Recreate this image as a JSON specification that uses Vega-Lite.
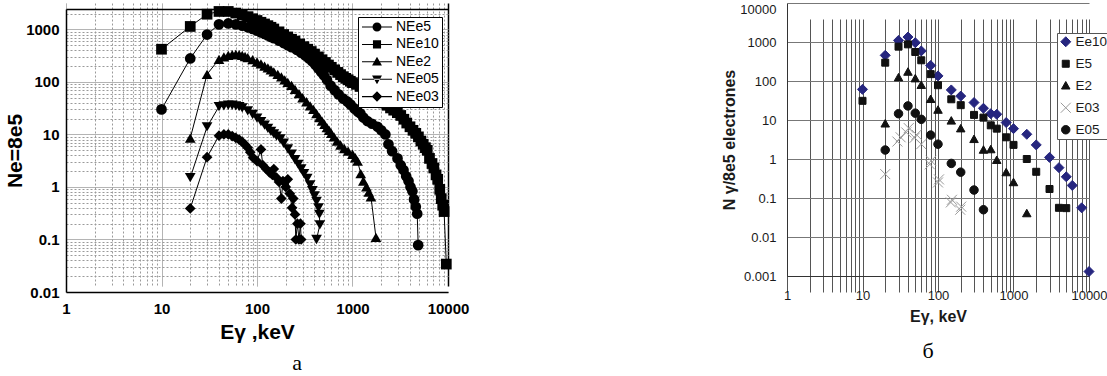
{
"$schema": "https://vega.github.io/schema/vega-lite/v6.json",
"padding": {"left": 4, "top": 2, "right": 0, "bottom": 0},
"background": "white",
"bounds": "flush",
"spacing": 339,
"resolve": {"scale": {"shape": "independent", "color": "independent", "stroke": "independent"}, "legend": {"shape": "independent", "color": "independent", "stroke": "independent"}},
"config": {"view": {"stroke": null}, "font": "Liberation Sans", "axis": {"labelFont": "Liberation Sans", "titleFont": "Liberation Sans"}, "legend": {"labelFont": "Liberation Sans"}},
"datasets": {
"a": [
{"s":"NEe5","E":10,"N":30},{"s":"NEe5","E":20,"N":280},{"s":"NEe5","E":30,"N":800},{"s":"NEe5","E":40,"N":1250},{"s":"NEe5","E":50,"N":1300},{"s":"NEe5","E":60,"N":1250},{"s":"NEe5","E":70,"N":1180},{"s":"NEe5","E":80,"N":1100},{"s":"NEe5","E":90,"N":1020},{"s":"NEe5","E":100,"N":950},{"s":"NEe5","E":110,"N":880},{"s":"NEe5","E":120,"N":820},{"s":"NEe5","E":130,"N":770},{"s":"NEe5","E":140,"N":720},{"s":"NEe5","E":150,"N":680},{"s":"NEe5","E":170,"N":610},{"s":"NEe5","E":190,"N":550},{"s":"NEe5","E":210,"N":500},{"s":"NEe5","E":230,"N":460},{"s":"NEe5","E":260,"N":410},{"s":"NEe5","E":290,"N":360},{"s":"NEe5","E":320,"N":320},{"s":"NEe5","E":350,"N":280},{"s":"NEe5","E":380,"N":245},{"s":"NEe5","E":410,"N":210},{"s":"NEe5","E":440,"N":180},{"s":"NEe5","E":470,"N":155},{"s":"NEe5","E":500,"N":135},{"s":"NEe5","E":540,"N":110},{"s":"NEe5","E":590,"N":85},{"s":"NEe5","E":650,"N":70},{"s":"NEe5","E":714,"N":58},{"s":"NEe5","E":800,"N":48},{"s":"NEe5","E":886,"N":42},{"s":"NEe5","E":955,"N":37},{"s":"NEe5","E":1050,"N":31},{"s":"NEe5","E":1140,"N":27},{"s":"NEe5","E":1210,"N":25},{"s":"NEe5","E":1300,"N":21},{"s":"NEe5","E":1430,"N":18},{"s":"NEe5","E":1600,"N":16},{"s":"NEe5","E":1830,"N":14},{"s":"NEe5","E":2000,"N":12},{"s":"NEe5","E":2210,"N":10},{"s":"NEe5","E":2380,"N":6.5},{"s":"NEe5","E":2600,"N":4.8},{"s":"NEe5","E":2960,"N":3.5},{"s":"NEe5","E":3200,"N":2.6},{"s":"NEe5","E":3420,"N":2.1},{"s":"NEe5","E":3650,"N":1.6},{"s":"NEe5","E":3860,"N":1.3},{"s":"NEe5","E":4050,"N":1.0},{"s":"NEe5","E":4240,"N":0.83},{"s":"NEe5","E":4410,"N":0.58},{"s":"NEe5","E":4600,"N":0.42},{"s":"NEe5","E":4760,"N":0.31},{"s":"NEe5","E":4870,"N":0.078},
{"s":"NEe10","E":10,"N":420},{"s":"NEe10","E":20,"N":1140},{"s":"NEe10","E":30,"N":1950},{"s":"NEe10","E":40,"N":2200},{"s":"NEe10","E":50,"N":2200},{"s":"NEe10","E":60,"N":2050},{"s":"NEe10","E":70,"N":1900},{"s":"NEe10","E":80,"N":1750},{"s":"NEe10","E":90,"N":1600},{"s":"NEe10","E":100,"N":1480},{"s":"NEe10","E":110,"N":1370},{"s":"NEe10","E":120,"N":1270},{"s":"NEe10","E":130,"N":1180},{"s":"NEe10","E":140,"N":1100},{"s":"NEe10","E":150,"N":1020},{"s":"NEe10","E":170,"N":900},{"s":"NEe10","E":190,"N":800},{"s":"NEe10","E":210,"N":720},{"s":"NEe10","E":230,"N":650},{"s":"NEe10","E":250,"N":600},{"s":"NEe10","E":280,"N":530},{"s":"NEe10","E":310,"N":470},{"s":"NEe10","E":340,"N":420},{"s":"NEe10","E":370,"N":380},{"s":"NEe10","E":400,"N":340},{"s":"NEe10","E":440,"N":300},{"s":"NEe10","E":480,"N":265},{"s":"NEe10","E":520,"N":235},{"s":"NEe10","E":560,"N":210},{"s":"NEe10","E":600,"N":190},{"s":"NEe10","E":650,"N":170},{"s":"NEe10","E":700,"N":152},{"s":"NEe10","E":750,"N":138},{"s":"NEe10","E":800,"N":126},{"s":"NEe10","E":850,"N":117},{"s":"NEe10","E":900,"N":110},{"s":"NEe10","E":950,"N":103},{"s":"NEe10","E":1000,"N":97},{"s":"NEe10","E":1100,"N":90},{"s":"NEe10","E":1200,"N":82},{"s":"NEe10","E":1300,"N":75},{"s":"NEe10","E":1400,"N":68},{"s":"NEe10","E":1500,"N":62},{"s":"NEe10","E":1650,"N":56},{"s":"NEe10","E":1800,"N":50},{"s":"NEe10","E":1950,"N":44},{"s":"NEe10","E":2100,"N":40},{"s":"NEe10","E":2300,"N":36},{"s":"NEe10","E":2500,"N":32},{"s":"NEe10","E":2700,"N":29},{"s":"NEe10","E":2950,"N":26},{"s":"NEe10","E":3200,"N":23},{"s":"NEe10","E":3450,"N":19.5},{"s":"NEe10","E":3700,"N":16.5},{"s":"NEe10","E":4000,"N":14},{"s":"NEe10","E":4300,"N":12},{"s":"NEe10","E":4600,"N":10.5},{"s":"NEe10","E":4900,"N":9},{"s":"NEe10","E":5200,"N":7.5},{"s":"NEe10","E":5500,"N":6.5},{"s":"NEe10","E":5800,"N":5.6},{"s":"NEe10","E":6060,"N":5.0},{"s":"NEe10","E":6400,"N":3.5},{"s":"NEe10","E":6800,"N":2.8},{"s":"NEe10","E":7100,"N":2.3},{"s":"NEe10","E":7500,"N":1.7},{"s":"NEe10","E":7800,"N":1.4},{"s":"NEe10","E":8200,"N":0.9},{"s":"NEe10","E":8500,"N":0.6},{"s":"NEe10","E":8800,"N":0.45},{"s":"NEe10","E":9100,"N":0.34},{"s":"NEe10","E":9600,"N":0.034},
{"s":"NEe2","E":20,"N":8.5},{"s":"NEe2","E":30,"N":140},{"s":"NEe2","E":40,"N":270},{"s":"NEe2","E":45,"N":300},{"s":"NEe2","E":50,"N":320},{"s":"NEe2","E":55,"N":330},{"s":"NEe2","E":60,"N":335},{"s":"NEe2","E":65,"N":330},{"s":"NEe2","E":70,"N":320},{"s":"NEe2","E":75,"N":305},{"s":"NEe2","E":80,"N":290},{"s":"NEe2","E":90,"N":265},{"s":"NEe2","E":100,"N":240},{"s":"NEe2","E":110,"N":220},{"s":"NEe2","E":120,"N":200},{"s":"NEe2","E":130,"N":185},{"s":"NEe2","E":140,"N":170},{"s":"NEe2","E":150,"N":155},{"s":"NEe2","E":165,"N":140},{"s":"NEe2","E":180,"N":125},{"s":"NEe2","E":195,"N":110},{"s":"NEe2","E":210,"N":98},{"s":"NEe2","E":230,"N":86},{"s":"NEe2","E":250,"N":72},{"s":"NEe2","E":275,"N":60},{"s":"NEe2","E":300,"N":50},{"s":"NEe2","E":330,"N":42},{"s":"NEe2","E":360,"N":35},{"s":"NEe2","E":390,"N":30},{"s":"NEe2","E":420,"N":25},{"s":"NEe2","E":450,"N":21},{"s":"NEe2","E":480,"N":18},{"s":"NEe2","E":510,"N":15.5},{"s":"NEe2","E":540,"N":13.5},{"s":"NEe2","E":570,"N":12},{"s":"NEe2","E":600,"N":10.5},{"s":"NEe2","E":640,"N":9},{"s":"NEe2","E":690,"N":7.5},{"s":"NEe2","E":750,"N":6.3},{"s":"NEe2","E":820,"N":5.4},{"s":"NEe2","E":900,"N":4.8},{"s":"NEe2","E":1000,"N":4.2},{"s":"NEe2","E":1070,"N":3.6},{"s":"NEe2","E":1130,"N":3.1},{"s":"NEe2","E":1220,"N":1.8},{"s":"NEe2","E":1300,"N":1.3},{"s":"NEe2","E":1400,"N":1.0},{"s":"NEe2","E":1480,"N":0.8},{"s":"NEe2","E":1560,"N":0.65},{"s":"NEe2","E":1760,"N":0.11},
{"s":"NEe05","E":20,"N":1.5},{"s":"NEe05","E":30,"N":14},{"s":"NEe05","E":40,"N":34},{"s":"NEe05","E":45,"N":35},{"s":"NEe05","E":50,"N":36},{"s":"NEe05","E":55,"N":36},{"s":"NEe05","E":60,"N":35},{"s":"NEe05","E":65,"N":34},{"s":"NEe05","E":70,"N":32},{"s":"NEe05","E":80,"N":28},{"s":"NEe05","E":90,"N":24},{"s":"NEe05","E":100,"N":20.5},{"s":"NEe05","E":110,"N":17.5},{"s":"NEe05","E":120,"N":15},{"s":"NEe05","E":130,"N":13},{"s":"NEe05","E":140,"N":11.5},{"s":"NEe05","E":150,"N":10.3},{"s":"NEe05","E":160,"N":9.3},{"s":"NEe05","E":175,"N":8.2},{"s":"NEe05","E":190,"N":6.8},{"s":"NEe05","E":210,"N":5.3},{"s":"NEe05","E":230,"N":4.2},{"s":"NEe05","E":250,"N":3.3},{"s":"NEe05","E":270,"N":2.7},{"s":"NEe05","E":290,"N":2.2},{"s":"NEe05","E":310,"N":1.8},{"s":"NEe05","E":335,"N":1.45},{"s":"NEe05","E":360,"N":1.1},{"s":"NEe05","E":380,"N":0.85},{"s":"NEe05","E":400,"N":0.68},{"s":"NEe05","E":420,"N":0.53},{"s":"NEe05","E":440,"N":0.4},{"s":"NEe05","E":450,"N":0.3},{"s":"NEe05","E":455,"N":0.19},{"s":"NEe05","E":420,"N":0.1},
{"s":"NEe03","E":20,"N":0.39},{"s":"NEe03","E":30,"N":3.7},{"s":"NEe03","E":40,"N":9.5},{"s":"NEe03","E":45,"N":10},{"s":"NEe03","E":50,"N":10},{"s":"NEe03","E":55,"N":9.3},{"s":"NEe03","E":60,"N":8.6},{"s":"NEe03","E":65,"N":8},{"s":"NEe03","E":70,"N":7.2},{"s":"NEe03","E":75,"N":6.4},{"s":"NEe03","E":80,"N":5.6},{"s":"NEe03","E":85,"N":4.6},{"s":"NEe03","E":91,"N":3.6},{"s":"NEe03","E":100,"N":3.1},{"s":"NEe03","E":110,"N":5.2},{"s":"NEe03","E":115,"N":2.6},{"s":"NEe03","E":125,"N":2.2},{"s":"NEe03","E":135,"N":1.9},{"s":"NEe03","E":145,"N":1.7},{"s":"NEe03","E":150,"N":2.2},{"s":"NEe03","E":160,"N":1.5},{"s":"NEe03","E":170,"N":1.25},{"s":"NEe03","E":180,"N":0.6},{"s":"NEe03","E":187,"N":1.3},{"s":"NEe03","E":200,"N":1.0},{"s":"NEe03","E":210,"N":1.4},{"s":"NEe03","E":220,"N":0.75},{"s":"NEe03","E":233,"N":0.4},{"s":"NEe03","E":240,"N":0.6},{"s":"NEe03","E":250,"N":0.3},{"s":"NEe03","E":255,"N":0.1},{"s":"NEe03","E":265,"N":0.2},{"s":"NEe03","E":275,"N":0.1},{"s":"NEe03","E":285,"N":0.2},{"s":"NEe03","E":290,"N":0.1}
],
"b": [
{"s":"Ee10","E":10,"N":61},{"s":"Ee10","E":20,"N":455},{"s":"Ee10","E":30,"N":1100},{"s":"Ee10","E":40,"N":1340},{"s":"Ee10","E":50,"N":960},{"s":"Ee10","E":60,"N":590},{"s":"Ee10","E":80,"N":250},{"s":"Ee10","E":100,"N":135},{"s":"Ee10","E":150,"N":59},{"s":"Ee10","E":200,"N":41},{"s":"Ee10","E":300,"N":28},{"s":"Ee10","E":400,"N":20},{"s":"Ee10","E":500,"N":14.5},{"s":"Ee10","E":600,"N":14},{"s":"Ee10","E":800,"N":8.6},{"s":"Ee10","E":1000,"N":6},{"s":"Ee10","E":1500,"N":4.3},{"s":"Ee10","E":2000,"N":2.3},{"s":"Ee10","E":3000,"N":1.1},{"s":"Ee10","E":4000,"N":0.6},{"s":"Ee10","E":5000,"N":0.35},{"s":"Ee10","E":6000,"N":0.21},{"s":"Ee10","E":8000,"N":0.056},{"s":"Ee10","E":10000,"N":0.0013},
{"s":"E5","E":10,"N":31},{"s":"E5","E":20,"N":295},{"s":"E5","E":30,"N":760},{"s":"E5","E":40,"N":870},{"s":"E5","E":50,"N":555},{"s":"E5","E":60,"N":340},{"s":"E5","E":80,"N":150},{"s":"E5","E":100,"N":78},{"s":"E5","E":150,"N":34},{"s":"E5","E":200,"N":24},{"s":"E5","E":300,"N":13.5},{"s":"E5","E":400,"N":11.5},{"s":"E5","E":500,"N":7.3},{"s":"E5","E":600,"N":6},{"s":"E5","E":800,"N":3.6},{"s":"E5","E":1000,"N":2.3},{"s":"E5","E":1500,"N":1.0},{"s":"E5","E":2000,"N":0.47},{"s":"E5","E":3000,"N":0.17},{"s":"E5","E":4000,"N":0.056},{"s":"E5","E":5000,"N":0.055},
{"s":"E2","E":20,"N":8},{"s":"E2","E":30,"N":122},{"s":"E2","E":40,"N":170},{"s":"E2","E":50,"N":115},{"s":"E2","E":60,"N":78},{"s":"E2","E":80,"N":34},{"s":"E2","E":100,"N":18},{"s":"E2","E":150,"N":9.5},{"s":"E2","E":200,"N":6},{"s":"E2","E":300,"N":3.2},{"s":"E2","E":400,"N":1.7},{"s":"E2","E":500,"N":1.75},{"s":"E2","E":600,"N":0.93},{"s":"E2","E":800,"N":0.45},{"s":"E2","E":1000,"N":0.25},{"s":"E2","E":1500,"N":0.04},
{"s":"E03","E":20,"N":0.41},{"s":"E03","E":29,"N":2.8},{"s":"E03","E":32,"N":3.6},{"s":"E03","E":38,"N":4.8},{"s":"E03","E":41,"N":6.2},{"s":"E03","E":49,"N":3.5},{"s":"E03","E":52,"N":4.2},{"s":"E03","E":60,"N":2.4},{"s":"E03","E":78,"N":0.73},{"s":"E03","E":81,"N":0.9},{"s":"E03","E":100,"N":0.25},{"s":"E03","E":103,"N":0.3},{"s":"E03","E":148,"N":0.077},{"s":"E03","E":153,"N":0.09},{"s":"E03","E":197,"N":0.05},{"s":"E03","E":203,"N":0.06},
{"s":"E05","E":20,"N":1.7},{"s":"E05","E":30,"N":14.5},{"s":"E05","E":40,"N":23},{"s":"E05","E":50,"N":15},{"s":"E05","E":60,"N":10.4},{"s":"E05","E":80,"N":4.1},{"s":"E05","E":100,"N":2.4},{"s":"E05","E":150,"N":0.77},{"s":"E05","E":200,"N":0.46},{"s":"E05","E":300,"N":0.16},{"s":"E05","E":400,"N":0.05}
]
},
"hconcat": [
{
"width": 382, "height": 289,
"title": {"text": "a", "orient": "bottom", "anchor": "middle", "dx": 40, "offset": 11, "font": "Liberation Serif", "fontSize": 22, "fontWeight": "normal", "color": "black"},
"data": {"name": "a"},
"resolve": {"scale": {"shape": "independent"}, "legend": {"shape": "independent"}},
"encoding": {
"x": {"field": "E", "type": "quantitative", "scale": {"type": "log", "domain": [1, 10000], "nice": false},
"axis": {"values": [1,2,3,4,5,6,7,8,9,10,20,30,40,50,60,70,80,90,100,200,300,400,500,600,700,800,900,1000,2000,3000,4000,5000,6000,7000,8000,9000,10000],
"labelExpr": "abs(log(datum.value)/LN10-round(log(datum.value)/LN10))<0.001 ? format(datum.value,'~g') : ''",
"labelOverlap": false, "labelBound": false, "labelFlush": false, "ticks": false, "grid": true,
"gridColor": {"condition": {"test": "datum.value >= 10000", "value": "black"}, "value": "#9a9a9a"},
"gridWidth": {"condition": {"test": "datum.value >= 10000", "value": 1.5}, "value": 1},
"gridDash": {"condition": {"test": "abs(log(datum.value)/LN10-round(log(datum.value)/LN10))<0.001", "value": [1,0]}, "value": [2,2]},
"domainColor": "black", "domainWidth": 1.5,
"labelFontSize": 15, "labelFontWeight": "bold", "labelColor": "black", "labelPadding": 9,
"title": "Eγ ,keV", "titleFontSize": 21, "titleFontWeight": "bold", "titleColor": "black", "titlePadding": 5}},
"y": {"field": "N", "type": "quantitative", "scale": {"type": "log", "domain": [0.01, 2450], "range": [289, 6], "nice": false},
"axis": {"values": [0.01,0.02,0.03,0.04,0.05,0.06,0.07,0.08,0.09,0.1,0.2,0.3,0.4,0.5,0.6,0.7,0.8,0.9,1,2,3,4,5,6,7,8,9,10,20,30,40,50,60,70,80,90,100,200,300,400,500,600,700,800,900,1000,2000,2450],
"labelExpr": "abs(log(datum.value)/LN10-round(log(datum.value)/LN10))<0.001 ? format(datum.value,'~g') : ''",
"labelOverlap": false, "labelBound": false, "labelFlush": false, "ticks": false, "grid": true,
"gridColor": {"condition": {"test": "datum.value > 2400", "value": "black"}, "value": "#9a9a9a"},
"gridWidth": {"condition": {"test": "datum.value > 2400", "value": 1.5}, "value": 1},
"gridDash": {"condition": {"test": "datum.value > 2400 || abs(log(datum.value)/LN10-round(log(datum.value)/LN10))<0.001", "value": [1,0]}, "value": [2,2]},
"domainColor": "black", "domainWidth": 1.5,
"labelFontSize": 15, "labelFontWeight": "bold", "labelColor": "black", "labelPadding": 7,
"title": "Ne=8e5", "titleFontSize": 21, "titleFontWeight": "bold", "titleColor": "black", "titlePadding": 0}}
},
"layer": [
{"mark": {"type": "line", "color": "black", "strokeWidth": 1}, "encoding": {"detail": {"field": "s", "type": "nominal"}, "order": {"value": null}}},
{"mark": {"type": "point", "filled": true, "color": "black", "opacity": 1, "size": 115},
"encoding": {"shape": {"field": "s", "type": "nominal",
"scale": {"domain": ["NEe5","NEe10","NEe2","NEe05","NEe03"], "range": ["circle","square","triangle-up","triangle-down","diamond"]},
"legend": null}}},
{"transform": [{"filter": "datum.N < 0"}],
"mark": {"type": "point", "filled": true, "color": "black", "opacity": 1, "size": 900},
"encoding": {"shape": {"field": "s", "type": "nominal",
"scale": {"domain": ["NEe5","NEe10","NEe2","NEe05","NEe03"], "range": [
"M-1,-0.035H1V0.035H-1ZM0.3,0A0.3,0.3,0,1,1,-0.3,0A0.3,0.3,0,1,1,0.3,0Z",
"M-1,-0.035H1V0.035H-1ZM-0.27,-0.27H0.27V0.27H-0.27Z",
"M-1,-0.035H1V0.035H-1ZM0,-0.33L0.33,0.25L-0.33,0.25Z",
"M-1,-0.035H1V0.035H-1ZM0,0.33L0.33,-0.25L-0.33,-0.25Z",
"M-1,-0.035H1V0.035H-1ZM0,-0.35L0.35,0L0,0.35L-0.35,0Z"]},
"legend": {"title": null, "orient": "none", "legendX": 292, "legendY": 14, "fillColor": "white", "strokeColor": "black", "padding": 3, "rowPadding": 3.4, "clipHeight": 14, "labelFontSize": 14, "labelColor": "black", "labelOffset": 3, "symbolSize": 900, "symbolFillColor": "black"}}}}
]
},
{
"width": 302, "height": 289,
"title": {"text": "б", "orient": "bottom", "anchor": "middle", "dx": -10, "offset": 17, "font": "Liberation Serif", "fontSize": 22, "fontWeight": "normal", "color": "black"},
"data": {"name": "b"},
"mark": {"type": "point", "filled": true, "opacity": 1, "size": 100, "strokeWidth": 1},
"encoding": {
"x": {"field": "E", "type": "quantitative", "scale": {"type": "log", "domain": [1, 10000], "nice": false},
"axis": {"values": [1,2,3,4,5,6,7,8,9,10,20,30,40,50,60,70,80,90,100,200,300,400,500,600,700,800,900,1000,2000,3000,4000,5000,6000,7000,8000,9000,10000],
"labelExpr": "abs(log(datum.value)/LN10-round(log(datum.value)/LN10))<0.001 ? format(datum.value,'~g') : ''",
"labelOverlap": false, "labelBound": false, "labelFlush": false, "ticks": false, "grid": true, "gridColor": "#555555", "gridWidth": 1,
"domainColor": "#333333", "domainWidth": 1, "offset": -16,
"labelFontSize": 13, "labelColor": "#1a1a1a", "labelPadding": 13,
"title": "Eγ, keV", "titleFontSize": 16, "titleFontWeight": "bold", "titleColor": "#1a1a1a", "titlePadding": 6}},
"y": {"field": "N", "type": "quantitative", "scale": {"type": "log", "domain": [0.001, 10000], "range": [273, 0], "nice": false},
"axis": {"values": [0.001,0.01,0.1,1,10,100,1000,10000],
"labelExpr": "format(datum.value,'~g')",
"labelBaseline": {"condition": {"test": "datum.value >= 10000", "value": "top"}, "value": "middle"},
"labelOverlap": false, "labelBound": false, "labelFlush": false, "ticks": false, "grid": true, "gridColor": "#777777", "gridWidth": 1,
"domainColor": "#333333", "domainWidth": 1,
"labelFontSize": 13, "labelColor": "#1a1a1a", "labelPadding": 11,
"title": "N γ/8e5 electrones", "titleFontSize": 16, "titleFontWeight": "bold", "titleColor": "#1a1a1a", "titlePadding": 2}},
"shape": {"field": "s", "type": "nominal",
"scale": {"domain": ["Ee10","E5","E2","E03","E05"], "range": ["diamond","M-0.7,-0.7H0.7V0.7H-0.7Z","M0,-0.85L0.85,0.65L-0.85,0.65Z","M-1,-1L1,1M-1,1L1,-1","M0.85,0A0.85,0.85,0,1,1,-0.85,0A0.85,0.85,0,1,1,0.85,0Z"]},
"legend": {"title": null, "orient": "none", "legendX": 270, "legendY": 30, "fillColor": "white", "strokeColor": "#555555", "padding": 2, "rowPadding": 7, "labelFontSize": 13.5, "labelColor": "#1a1a1a", "labelOffset": 3, "symbolSize": 100, "symbolStrokeWidth": 1}},
"color": {"field": "s", "type": "nominal", "scale": {"domain": ["Ee10","E5","E2","E03","E05"], "range": ["#26267f","#111111","#111111","#9a9a9a","#111111"]}},
"stroke": {"field": "s", "type": "nominal", "scale": {"domain": ["Ee10","E5","E2","E03","E05"], "range": ["#26267f","#111111","#111111","#9a9a9a","#111111"]}}
}
}
]
}
